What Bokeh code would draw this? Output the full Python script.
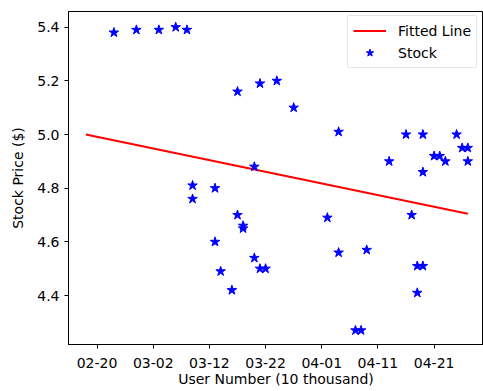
import pandas as pd
from bokeh.plotting import figure
from bokeh.models import (FixedTicker, DatetimeTickFormatter, PrintfTickFormatter,
                          Range1d, Legend, LegendItem)
from bokeh.embed import file_html
from bokeh.resources import INLINE

YEAR = "2021"

# ---- data ----
stock_dates = ["02-23", "02-27", "03-03", "03-06", "03-08", "03-09", "03-09", "03-13",
               "03-13", "03-14", "03-16", "03-17", "03-17", "03-18", "03-18", "03-20",
               "03-20", "03-21", "03-21", "03-22", "03-24", "03-27", "04-02", "04-04",
               "04-04", "04-07", "04-08", "04-09", "04-13", "04-16", "04-17", "04-18",
               "04-18", "04-19", "04-19", "04-19", "04-21", "04-22", "04-23", "04-25",
               "04-26", "04-27", "04-27"]
stock_values = [5.38, 5.39, 5.39, 5.40, 5.39, 4.81, 4.76, 4.80,
                4.60, 4.49, 4.42, 5.16, 4.70, 4.66, 4.65, 4.88,
                4.54, 5.19, 4.50, 4.50, 5.20, 5.10, 4.69, 5.01,
                4.56, 4.27, 4.27, 4.57, 4.90, 5.00, 4.70, 4.51,
                4.41, 5.00, 4.86, 4.51, 4.92, 4.92, 4.90, 5.00,
                4.95, 4.95, 4.90]

fit_dates = ["02-18", "04-27"]
fit_values = [5.00, 4.705]

x_tick_labels = ["02-20", "03-02", "03-12", "03-22", "04-01", "04-11", "04-21"]
y_ticks = [4.4, 4.6, 4.8, 5.0, 5.2, 5.4]

x_start, x_end = "02-14 22:00", "04-29 19:00"
y_start, y_end = 4.2175, 5.4585


def to_dt(md):
    return pd.to_datetime(f"{YEAR}-{md}")


def to_ms(md):
    return to_dt(md).value / 1e6


xs = [to_dt(d) for d in stock_dates]
fx = [to_dt(d) for d in fit_dates]

FONT = "DejaVu Sans"

p = figure(width=483, height=391, output_backend="svg", toolbar_location=None,
           x_axis_type="datetime",
           x_range=Range1d(to_ms(x_start), to_ms(x_end)),
           y_range=Range1d(y_start, y_end),
           min_border_left=68, min_border_right=0, min_border_top=11, min_border_bottom=47)

p.grid.visible = False
p.outline_line_color = "black"
p.outline_line_width = 1
p.background_fill_color = "white"
p.border_fill_color = "white"

line_r = p.line(fx, fit_values, line_color="#ff0000", line_width=2)
star_r = p.scatter(xs, stock_values, marker="star", size=10,
                   fill_color="#0000ff", line_color="#0000ff")

# axes
for ax in (p.xaxis[0], p.yaxis[0]):
    ax.axis_line_color = "black"
    ax.major_tick_line_color = "black"
    ax.major_tick_out = 4
    ax.major_tick_in = 0
    ax.minor_tick_line_color = None
    ax.major_label_text_font = FONT
    ax.major_label_text_font_size = "14px"
    ax.major_label_text_color = "black"
    ax.axis_label_text_font = FONT
    ax.axis_label_text_font_size = "14px"
    ax.axis_label_text_font_style = "normal"
    ax.axis_label_text_color = "black"

p.xaxis[0].ticker = FixedTicker(ticks=[to_ms(t) for t in x_tick_labels])
fmt = "%m-%d"
p.xaxis[0].formatter = DatetimeTickFormatter(
    milliseconds=fmt, seconds=fmt, minsec=fmt, minutes=fmt, hourmin=fmt,
    hours=fmt, days=fmt, months=fmt, years=fmt)
p.xaxis[0].axis_label = "User Number (10 thousand)"
p.xaxis[0].major_label_standoff = 9
p.xaxis[0].axis_label_standoff = 0

p.yaxis[0].ticker = FixedTicker(ticks=y_ticks)
p.yaxis[0].formatter = PrintfTickFormatter(format="%.1f")
p.yaxis[0].axis_label = "Stock Price ($)"
p.yaxis[0].major_label_standoff = 5
p.yaxis[0].axis_label_standoff = 8

legend = Legend(items=[LegendItem(label="Fitted Line", renderers=[line_r]),
                       LegendItem(label="Stock", renderers=[star_r])],
                location=(279, 276))
legend.label_text_font = FONT
legend.label_text_font_size = "14px"
legend.label_text_color = "black"
legend.glyph_width = 33
legend.glyph_height = 19
legend.label_standoff = 12
legend.spacing = 3
legend.padding = 5
legend.margin = 0
legend.border_line_color = "#d0d0d0"
legend.border_line_width = 1
legend.background_fill_alpha = 0.8
p.add_layout(legend, "center")

open("out.html", "w").write(file_html(p, INLINE))
